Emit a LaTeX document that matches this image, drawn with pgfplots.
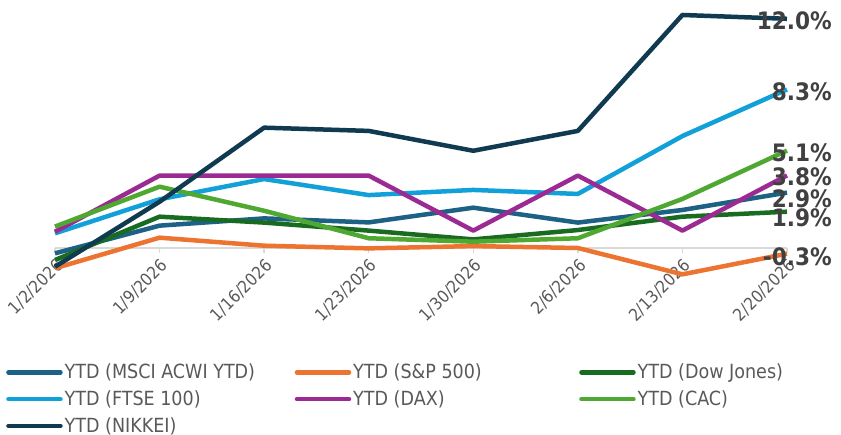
\documentclass[border=0pt]{standalone}
\usepackage{fontspec}
\setmainfont{DejaVu Sans Condensed}
\usepackage{pgfplots}
\pgfplotsset{compat=1.18}
\definecolor{cMSCI}{HTML}{1D6184}
\definecolor{cSP}{HTML}{ED7430}
\definecolor{cDOW}{HTML}{1A6B22}
\definecolor{cFTSE}{HTML}{12A0D8}
\definecolor{cDAX}{HTML}{9B2B93}
\definecolor{cCAC}{HTML}{4EA832}
\definecolor{cNIK}{HTML}{103A50}
\definecolor{ticktext}{HTML}{595959}
\definecolor{endlab}{HTML}{404040}
\definecolor{zline}{HTML}{D9D9D9}
\begin{document}
\begin{tikzpicture}
\useasboundingbox (0,0) rectangle (841pt,435pt);
\begin{axis}[
  at={(55pt,158.35pt)}, anchor=south west,
  scale only axis, width=732pt, height=267.4pt,
  xmin=0, xmax=7, ymin=-1.5, ymax=12.5,
  clip=false,
  axis x line=middle, axis y line=none,
  hide obscured x ticks=false,
  axis line style={draw=zline, line width=1.5pt, -},
  xtick={0,1,2,3,4,5,6,7},
  xticklabels={1/2/2026,1/9/2026,1/16/2026,1/23/2026,1/30/2026,2/6/2026,2/13/2026,2/20/2026},
  x tick label style={xshift=6pt, yshift=-9pt, rotate=45, anchor=east, font=\fontsize{17pt}{20pt}\selectfont, text=ticktext, inner sep=1pt},
  ytick=\empty,
  tick align=outside, major tick length=5pt,
  tick style={draw=zline, line width=1.5pt},
  every axis plot/.append style={line width=4.5pt, line join=round},
  legend columns=3,
  legend cell align=left,
  legend style={draw=none, fill=none, inner sep=0pt,
    at={(axis description cs:-0.0669,-0.3192)}, anchor=north west,
    font=\fontsize{19.5pt}{22pt}\selectfont, text=ticktext,
    /tikz/every even column/.style={column sep=0pt},
    row sep=6.5pt},
  legend image code/.code={\draw[#1, line width=4.5pt, line cap=round] (0pt,0pt) -- (52pt,0pt);},
]
\addplot[cMSCI] coordinates {(0,-0.28) (1,1.17) (2,1.55) (3,1.34) (4,2.11) (5,1.33) (6,1.99) (7,2.9)}
  node[pos=1, anchor=east, inner sep=0pt, xshift=47pt, yshift=-6.4pt, text=endlab, font=\fontsize{24pt}{28pt}\selectfont\bfseries] {2.9\%};
\addlegendentry{\makebox[228pt][l]{YTD (MSCI ACWI YTD)}}
\addplot[cSP] coordinates {(0,-1.06) (1,0.54) (2,0.12) (3,-0.02) (4,0.10) (5,0.0) (6,-1.38) (7,-0.3)}
  node[pos=1, anchor=east, inner sep=0pt, xshift=47pt, yshift=-3.3pt, text=endlab, font=\fontsize{24pt}{28pt}\selectfont\bfseries] {-0.3\%};
\addlegendentry{\makebox[224pt][l]{YTD (S\&P 500)}}
\addplot[cDOW] coordinates {(0,-0.63) (1,1.64) (2,1.33) (3,0.91) (4,0.45) (5,0.94) (6,1.64) (7,1.9)}
  node[pos=1, anchor=east, inner sep=0pt, xshift=47pt, yshift=-6.3pt, text=endlab, font=\fontsize{24pt}{28pt}\selectfont\bfseries] {1.9\%};
\addlegendentry{YTD (Dow Jones)}
\addplot[cFTSE] coordinates {(0,0.77) (1,2.55) (2,3.61) (3,2.77) (4,3.04) (5,2.83) (6,5.86) (7,8.3)}
  node[pos=1, anchor=east, inner sep=0pt, xshift=47pt, yshift=-2pt, text=endlab, font=\fontsize{24pt}{28pt}\selectfont\bfseries] {8.3\%};
\addlegendentry{YTD (FTSE 100)}
\addplot[cDAX] coordinates {(0,0.85) (1,3.79) (2,3.79) (3,3.79) (4,0.91) (5,3.79) (6,0.91) (7,3.8)}
  node[pos=1, anchor=east, inner sep=0pt, xshift=47pt, yshift=-1.3pt, text=endlab, font=\fontsize{24pt}{28pt}\selectfont\bfseries] {3.8\%};
\addlegendentry{YTD (DAX)}
\addplot[cCAC] coordinates {(0,1.12) (1,3.21) (2,1.95) (3,0.51) (4,0.33) (5,0.51) (6,2.57) (7,5.1)}
  node[pos=1, anchor=east, inner sep=0pt, xshift=47pt, yshift=-2.5pt, text=endlab, font=\fontsize{24pt}{28pt}\selectfont\bfseries] {5.1\%};
\addlegendentry{YTD (CAC)}
\addplot[cNIK] coordinates {(0,-0.98) (1,2.42) (2,6.30) (3,6.13) (4,5.09) (5,6.13) (6,12.2) (7,12.0)}
  node[pos=1, anchor=east, inner sep=0pt, xshift=47pt, yshift=-1.7pt, text=endlab, font=\fontsize{24pt}{28pt}\selectfont\bfseries] {12.0\%};
\addlegendentry{YTD (NIKKEI)}
\end{axis}
\end{tikzpicture}
\end{document}
